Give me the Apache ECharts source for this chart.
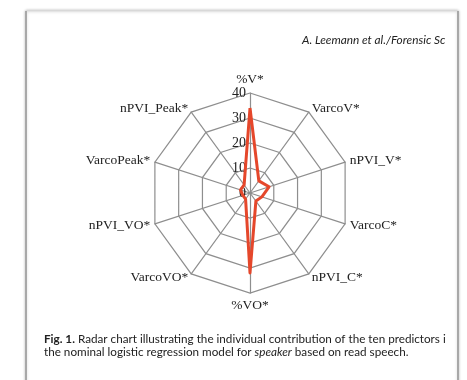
<!DOCTYPE html>
<html>
<head>
<meta charset="utf-8">
<script src="https://cdn.jsdelivr.net/npm/echarts@6/dist/echarts.min.js"></script>
<style>
  html, body { margin: 0; padding: 0; background: #ffffff; }
  #chart { width: 467px; height: 380px; }
</style>
</head>
<body>
<div id="chart"></div>
<script>
// Predictors, listed clockwise from the top of the radar
const predictors = ['%V*', 'VarcoV*', 'nPVI_V*', 'VarcoC*', 'nPVI_C*', '%VO*', 'VarcoVO*', 'nPVI_VO*', 'VarcoPeak*', 'nPVI_Peak*'];
// Individual contribution of each predictor
const contribution = [34, 6, 8, 5, 4, 32, 3, 3, 4, 4];
// Radial scale
const scaleMax = 40;
const scaleSteps = 4;

// ECharts lays radar axes out counter-clockwise, so keep the first axis
// on top and reverse the rest to read clockwise.
const order = [0].concat(predictors.map((_, i) => i).slice(1).reverse());

const chart = echarts.init(document.getElementById('chart'), null, { renderer: 'canvas' });

const serif = '"Liberation Serif", "DejaVu Serif", serif';
const sans = 'Lato, "Open Sans", "Noto Sans", sans-serif';

const indicators = order.map(i => ({
  name: predictors[i],
  min: 0,
  max: scaleMax,
  axisLabel: i === 0 ? { show: true } : { show: false }
}));
const values = order.map(i => contribution[i]);

chart.setOption({
  backgroundColor: '#ffffff',
  animation: false,
  graphic: [
    // page frame
    { type: 'rect', shape: { x: 26, y: 11, width: 432, height: 380 },
      style: { fill: '#ffffff', stroke: '#dedede', lineWidth: 1, shadowBlur: 3, shadowColor: 'rgba(0,0,0,0.3)' }, z: -10 },
    { type: 'line', shape: { x1: 26, y1: 11, x2: 26, y2: 380 }, style: { stroke: '#a8a8a8', lineWidth: 2 }, z: -9 },
    { type: 'line', shape: { x1: 458, y1: 11, x2: 458, y2: 380 }, style: { stroke: '#a8a8a8', lineWidth: 2 }, z: -9 },
    // running head
    { type: 'text', left: 302, top: 34,
      style: { text: 'A. Leemann et al./Forensic Sc', font: 'italic 11.8px ' + sans, fill: '#222' } },
    // caption
    { type: 'text', left: 44, top: 333,
      style: {
        text: '{b|Fig. 1.} Radar chart illustrating the individual contribution of the ten predictors i',
        font: '11.7px ' + sans, fill: '#222',
        rich: { b: { font: 'bold 11.7px ' + sans, fill: '#222' } }
      } },
    { type: 'text', left: 44, top: 346,
      style: {
        text: 'the nominal logistic regression model for {i|speaker} based on read speech.',
        font: '11.7px ' + sans, fill: '#222',
        rich: { i: { font: 'italic 11.7px ' + sans, fill: '#222' } }
      } }
  ],
  radar: {
    center: [250, 193],
    radius: 100,
    startAngle: 90,
    splitNumber: scaleSteps,
    shape: 'polygon',
    indicator: indicators,
    nameGap: 5,
    axisName: { color: '#222', fontFamily: serif, fontSize: 13.5 },
    axisLine: { lineStyle: { color: '#8e8e8e', width: 1.2 } },
    splitLine: { lineStyle: { color: '#8e8e8e', width: 1.2 } },
    splitArea: { show: false },
    axisTick: { show: false },
    axisLabel: { show: false, color: '#222', fontFamily: serif, fontSize: 14, margin: 4 }
  },
  series: [{
    type: 'radar',
    symbol: 'none',
    lineStyle: { color: '#e5472b', width: 3 },
    data: [{ value: values, name: 'Contribution' }]
  }]
});
</script>
</body>
</html>
